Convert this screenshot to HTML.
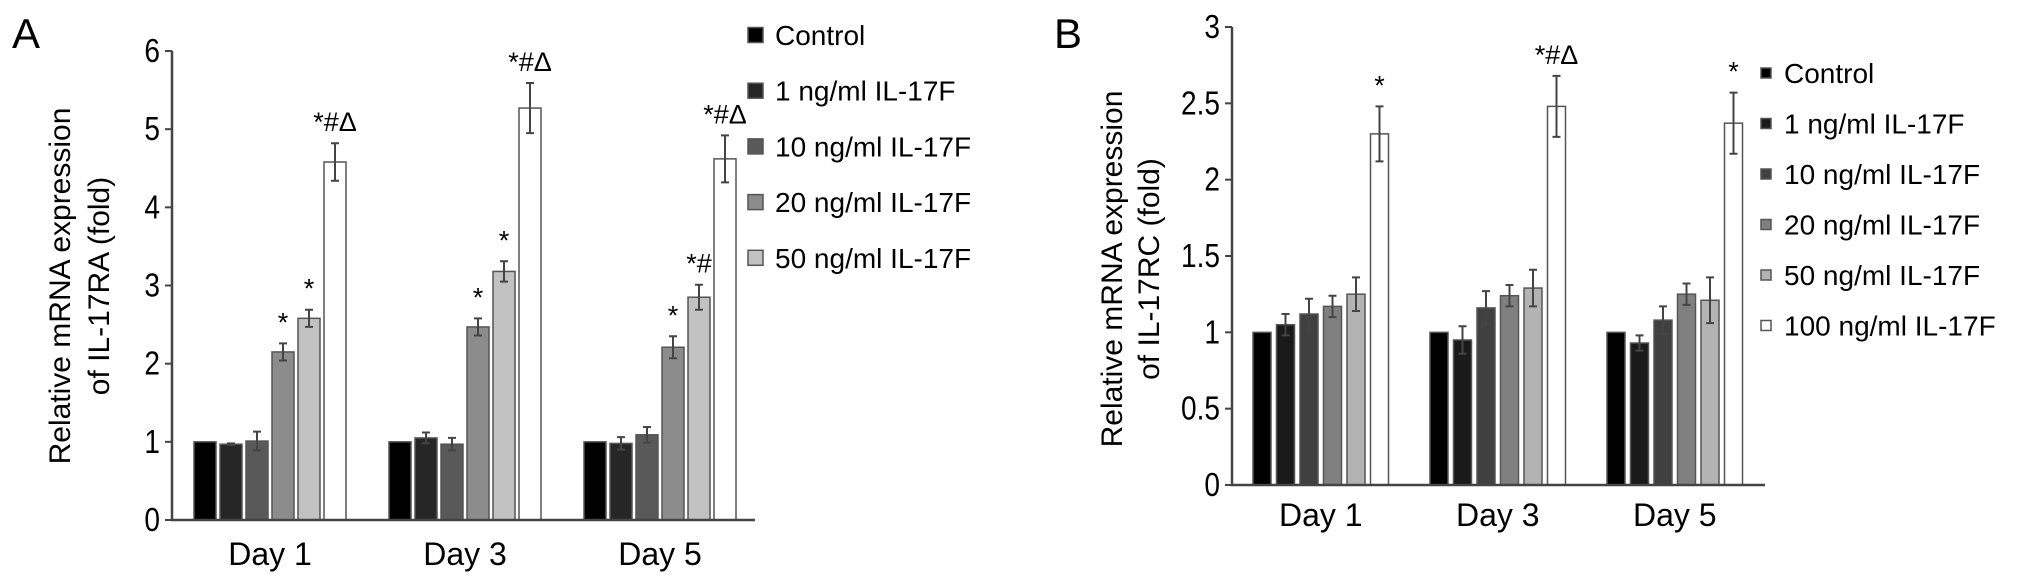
<!DOCTYPE html>
<html><head><meta charset="utf-8"><style>
html,body{margin:0;padding:0;background:#fff;}
svg{display:block;font-family:"Liberation Sans",Arial,sans-serif;}
</style></head><body>
<svg id="fig" width="2032" height="583" viewBox="0 0 2032 583" xmlns="http://www.w3.org/2000/svg"></svg>
<script>
const categories = ["Day 1","Day 3","Day 5"];
const seriesA = ["Control","1 ng/ml IL-17F","10 ng/ml IL-17F","20 ng/ml IL-17F","50 ng/ml IL-17F"];
const valuesA = [
  [1,1,1],
  [0.97,1.05,0.98],
  [1.01,0.97,1.09],
  [2.15,2.47,2.21],
  [2.58,3.18,2.85],
  [4.58,5.27,4.62]
];
const errorsA = [
  [0,0,0],
  [0.01,0.07,0.08],
  [0.12,0.08,0.10],
  [0.11,0.11,0.14],
  [0.11,0.13,0.16],
  [0.24,0.32,0.30]
];
const marksA = [
  ["","",""],["","",""],["","",""],
  ["*","*","*"],["*","*","*#"],["*#Δ","*#Δ","*#Δ"]
];
const ticksA = [0,1,2,3,4,5,6];
const seriesB = ["Control","1 ng/ml IL-17F","10 ng/ml IL-17F","20 ng/ml IL-17F","50 ng/ml IL-17F","100 ng/ml IL-17F"];
const valuesB = [
  [1,1,1],
  [1.05,0.95,0.93],
  [1.12,1.16,1.08],
  [1.17,1.24,1.25],
  [1.25,1.29,1.21],
  [2.30,2.48,2.37]
];
const errorsB = [
  [0,0,0],
  [0.07,0.09,0.05],
  [0.10,0.11,0.09],
  [0.07,0.07,0.07],
  [0.11,0.12,0.15],
  [0.18,0.20,0.20]
];
const marksB = [
  ["","",""],["","",""],["","",""],["","",""],["","",""],
  ["*","*#Δ","*"]
];
const ticksB = [0,0.5,1,1.5,2,2.5,3];

const NS="http://www.w3.org/2000/svg";
const svg=document.getElementById('fig');
function mk(tag,attrs,parent){const e=document.createElementNS(NS,tag);for(const k in attrs)e.setAttribute(k,attrs[k]);(parent||svg).appendChild(e);return e;}

function drawPanel(cfg){
  const g=mk('g',{});
  
  
  const y=v=>cfg.y0-(v/cfg.ymax)*(cfg.y0-cfg.ytop);
  const L=mk('text',{x:cfg.letterX,y:48,'font-size':42},g);L.textContent=cfg.letter;
  
  
  cfg.values.forEach((ser,si)=>{
    ser.forEach((v,ci)=>{
      const x=cfg.groupX[ci]+si*cfg.step;
      const r=mk('rect',{x:x,y:y(v),width:cfg.bw,height:cfg.y0-y(v),fill:cfg.colors[si],stroke:'#555','stroke-width':1.5},g);
      
      
      const e=cfg.errors[si][ci];
      const cx=x+cfg.bw/2;
      if(e>0){
        const eb=mk('path',{d:`M${cx},${y(v-e)}V${y(v+e)}M${cx-4},${y(v-e)}H${cx+4}M${cx-4},${y(v+e)}H${cx+4}`,stroke:'#444','stroke-width':2,fill:'none'},g);
        
        
      }
      const m=cfg.marks[si][ci];
      if(m){
        const t=mk('text',{x:cx,y:y(v+e)-12,'text-anchor':'middle','font-size':27},g);t.textContent=m;
        
        
      }
    });
  });
  const ax=mk('path',{d:`M${cfg.ax},${cfg.ytop}V${cfg.y0}H${cfg.axEnd}`,stroke:'#444','stroke-width':2.5,fill:'none'},g);
  
  
  cfg.ticks.forEach(t=>{
    mk('line',{x1:cfg.ax-7,x2:cfg.ax,y1:y(t),y2:y(t),stroke:'#444','stroke-width':2},g);
    const tl=mk('text',{transform:`translate(${cfg.ax-12},${y(t)+11}) scale(0.85,1)`,'text-anchor':'end','font-size':33},g);tl.textContent=String(t);
    
    
  });
  categories.forEach((c,ci)=>{
    const cx=cfg.groupX[ci]+(cfg.values.length-1)*cfg.step/2+cfg.bw/2;
    const t=mk('text',{x:cx,y:cfg.dayY,'text-anchor':'middle','font-size':32},g);t.textContent=c;
    
    
  });
  const yt=mk('text',{transform:`translate(${cfg.titleX},${cfg.titleY}) rotate(-90)`,'text-anchor':'middle','font-size':30},g);
  
  
  const t1=mk('tspan',{x:0,y:0},yt);t1.textContent='Relative mRNA expression';
  const t2=mk('tspan',{x:0,dy:cfg.lineGap},yt);t2.textContent=cfg.title2;
  cfg.series.forEach((s,si)=>{
    const ly=cfg.legY+si*cfg.legStep;
    const le=mk('g',{},g);
    
    
    mk('rect',{x:cfg.legX,y:ly-cfg.sq/2,width:cfg.sq,height:cfg.sq,fill:cfg.colors[si],stroke:'#555','stroke-width':1.5},le);
    const t=mk('text',{x:cfg.legTX,y:ly+10,'font-size':28},le);t.textContent=s;
  });
}

drawPanel({name:'chart-a',letter:'A',letterX:12,y0:520,ytop:51,ymax:6,ax:172,axEnd:755,
  groupX:[194,389,584],step:26,bw:22,values:valuesA,errors:errorsA,marks:marksA,ticks:ticksA,
  colors:['#000','#262626','#595959','#8c8c8c','#c2c2c2','#fff'],dayY:565,titleX:70,titleY:286,lineGap:39,
  title2:'of IL-17RA (fold)',series:seriesA,legX:748,legTX:775,legY:35,legStep:55.7,sq:15});
drawPanel({name:'chart-b',letter:'B',letterX:1054,y0:485,ytop:27,ymax:3,ax:1232,axEnd:1765,
  groupX:[1253,1430,1607],step:23.5,bw:18,values:valuesB,errors:errorsB,marks:marksB,ticks:ticksB,
  colors:['#000','#1a1a1a','#404040','#808080','#b3b3b3','#fff'],dayY:526,titleX:1122,titleY:269,lineGap:37,
  title2:'of IL-17RC (fold)',series:seriesB,legX:1761,legTX:1784,legY:73,legStep:50.5,sq:10});
</script>
</body></html>
